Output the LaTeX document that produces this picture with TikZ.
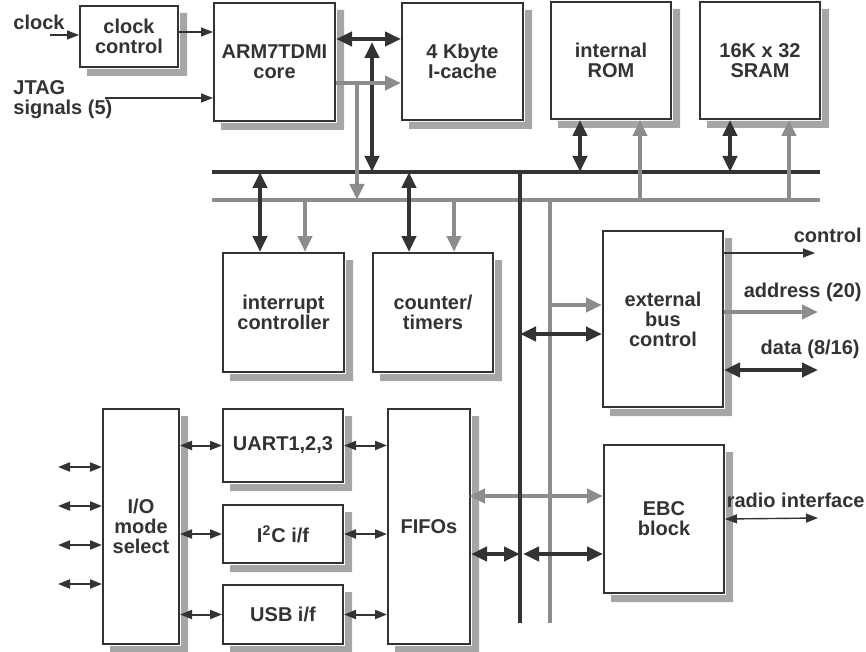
\documentclass[tikz,border=0pt]{standalone}
\usepackage{fontspec}
\setmainfont{Liberation Sans}
\usepackage{tikz}
\usetikzlibrary{arrows.meta, positioning, calc}
\definecolor{inkdark}{HTML}{333333}
\definecolor{inkgray}{HTML}{8C8C8C}
\definecolor{shadowgray}{HTML}{A6A6A6}

\begin{document}
\begin{tikzpicture}[
  x=0.5pt, y=-0.5pt,
  block/.style={
    rectangle, draw=inkdark, line width=1pt, fill=white, anchor=north west,
    align=center, inner sep=0pt, text=inkdark,
    font=\bfseries\fontsize{10}{10}\selectfont
  },
  shadowbox/.style={fill=shadowgray, draw=none},
  lbl/.style={inner sep=0pt, text=inkdark, font=\bfseries\fontsize{10}{10}\selectfont},
  dkbus/.style={draw=inkdark, line width=2pt},
  gybus/.style={draw=inkgray, line width=2pt},
  dkboth/.style={draw=inkdark, line width=2pt,
    {Triangle[length=8pt,width=7pt]}-{Triangle[length=8pt,width=7pt]}},
  gyarrow/.style={draw=inkgray, line width=2pt, -{Triangle[length=8pt,width=7pt]}},
  gyboth/.style={draw=inkgray, line width=2pt,
    {Triangle[length=8pt,width=7pt]}-{Triangle[length=8pt,width=7pt]}},
  thinarrow/.style={draw=inkdark, line width=0.7pt, -{Triangle[length=6pt,width=4.5pt]}},
  thinboth/.style={draw=inkdark, line width=0.7pt,
    {Triangle[length=6pt,width=4.5pt]}-{Triangle[length=6pt,width=4.5pt]}},
  ioboth/.style={draw=inkdark, line width=1pt,
    {Triangle[length=6pt,width=4.5pt]}-{Triangle[length=6pt,width=4.5pt]}},
]
  \useasboundingbox (0,0) rectangle (866,652);

  \node[block, minimum width=49pt, minimum height=30.5pt] (clkctl) at (79,5) {clock\\control};
  \node[block, minimum width=60.5pt, minimum height=59pt] (core) at (213,2) {ARM7TDMI\\core};
  \node[block, minimum width=60.5pt, minimum height=58.5pt] (icache) at (401,2) {4 Kbyte\\I-cache};
  \node[block, minimum width=60pt, minimum height=58.5pt] (rom) at (550,1) {internal\\ROM};
  \node[block, minimum width=60pt, minimum height=58.5pt] (sram) at (699,1) {16K x 32\\SRAM};
  \node[block, minimum width=60.5pt, minimum height=59.5pt] (intc) at (222,252) {interrupt\\controller};
  \node[block, minimum width=60pt, minimum height=59.5pt] (timers) at (372,252) {counter/\\timers};
  \node[block, minimum width=60pt, minimum height=88pt] (ebc) at (602,230) {external\\bus\\control};
  \node[block, minimum width=38pt, minimum height=117.5pt] (iomode) at (102,408) {I/O\\mode\\select};
  \node[block, minimum width=60pt, minimum height=36.5pt] (uart) at (222,408) {UART1,2,3};
  \node[block, minimum width=60pt, minimum height=29pt] (iic) at (222,504) {I\textsuperscript{2}C i/f};
  \node[block, minimum width=60pt, minimum height=29.5pt] (usb) at (222,584) {USB i/f};
  \node[block, minimum width=41pt, minimum height=117.5pt] (fifos) at (387,408) {FIFOs};
  \node[block, minimum width=60pt, minimum height=74pt] (ebcblk) at (603,444) {EBC\\block};

  \foreach \blk in {clkctl, core, icache, rom, sram, intc, timers, ebc,
                    iomode, uart, iic, usb, fifos, ebcblk}
    \fill[shadowbox] ($(\blk.north east)+(1,8)$) -- ++(7,0)
      -- ($(\blk.south east)+(8,8)$) -- ($(\blk.south west)+(8,8)$)
      -- ++(0,-7) -- ($(\blk.south east)+(1,1)$) -- cycle;

  \node[lbl, anchor=west] (clocklbl) at (13,22) {clock};
  \node[lbl, anchor=west, align=left] (jtaglbl) at (13,100) {JTAG\\signals (5)};
  \node[lbl, anchor=east] (ctllbl) at (862,235) {control};
  \node[lbl, anchor=east] (addrlbl) at (862,292) {address (20)};
  \node[lbl, anchor=east] (datalbl) at (860,349) {data (8/16)};
  \node[lbl, anchor=east] (radiolbl) at (865,500) {radio interface};

  \coordinate (fgy) at (469,496);
  \draw[gyboth] (fgy) -- (fgy -| ebcblk.west);

  \coordinate (dbusL) at (212,172);
  \coordinate (dbusR) at (820,172);
  \coordinate (gbusL) at (212,200);
  \coordinate (gbusR) at (820,200);
  \coordinate (dvtop) at (520,172);
  \coordinate (dvbot) at (520,623);
  \coordinate (gvtop) at (550,200);
  \coordinate (gvbot) at (550,623);
  \draw[dkbus] (dbusL) -- (dbusR);
  \draw[gybus] (gbusL) -- (gbusR);
  \draw[dkbus] (dvtop) -- (dvbot);
  \draw[gybus] (gvtop) -- (gvbot);

  \coordinate (clkin) at (50,35);
  \draw[thinarrow] (clkin) -- (clkin -| clkctl.west);
  \coordinate (clkout) at (195,32);
  \draw[thinarrow] (clkout -| clkctl.east) -- (clkout -| core.west);
  \coordinate (jtagin) at (105,98);
  \draw[thinarrow] (jtagin) -- (jtagin -| core.west);

  \coordinate (cdata) at (372,39);
  \draw[dkboth] (cdata -| core.east) -- (cdata -| icache.west);
  \draw[dkboth] ([yshift=-1.5pt]cdata) -- (cdata |- dbusL);
  \coordinate (caddr) at (357,83);
  \draw[gyarrow] (caddr -| core.east) -- (caddr -| icache.west);
  \draw[gyarrow] (caddr) -- (caddr |- gbusL);

  \foreach \blk/\xd/\xg in {rom/580/640, sram/730/789} {
    \coordinate (dt\blk) at (\xd,172);
    \coordinate (gt\blk) at (\xg,200);
    \draw[dkboth] (dt\blk) -- (dt\blk |- \blk.south);
    \draw[gyarrow] (gt\blk) -- (gt\blk |- \blk.south);
  }
  \foreach \blk/\xd/\xg in {intc/260/305, timers/409/454} {
    \coordinate (dt\blk) at (\xd,172);
    \coordinate (gt\blk) at (\xg,200);
    \draw[dkboth] (dt\blk) -- (dt\blk |- \blk.north);
    \draw[gyarrow] (gt\blk) -- (gt\blk |- \blk.north);
  }

  \coordinate (ebcg) at (550,305);
  \draw[gyarrow] (ebcg) -- (ebcg -| ebc.west);
  \coordinate (ebcd) at (520,334);
  \draw[dkboth] (ebcd) -- (ebcd -| ebc.west);
  \coordinate (ctlout) at (815,253);
  \draw[thinarrow] (ctlout -| ebc.east) -- (ctlout);
  \coordinate (addrout) at (818,312);
  \draw[gyarrow] (addrout -| ebc.east) -- (addrout);
  \coordinate (dataout) at (818,370);
  \draw[dkboth] (dataout -| ebc.east) -- (dataout);

  \coordinate (fdk) at (520,554);
  \draw[dkboth] (fdk -| fifos.east) -- (fdk);
  \draw[dkboth] ([xshift=1.5pt]fdk) -- (fdk -| ebcblk.west);
  \coordinate (radioout) at (818,518);
  \draw[thinboth] (ebcblk.east) -- (radioout);

  \foreach \y [count=\i] in {467,506,545,584} {
    \coordinate (iopin\i) at (58,\y);
    \draw[ioboth] (iopin\i) -- (iopin\i -| iomode.west);
  }
  \foreach \blk in {uart, iic, usb} {
    \draw[ioboth] (\blk.west -| iomode.east) -- (\blk.west);
    \draw[ioboth] (\blk.east) -- (\blk.east -| fifos.west);
  }
\end{tikzpicture}
\end{document}
